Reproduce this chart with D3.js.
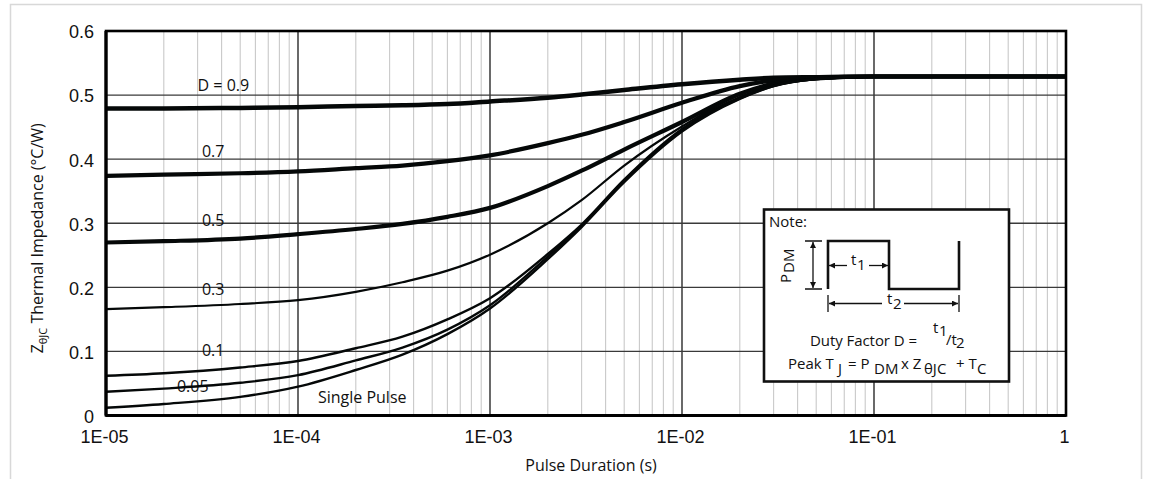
<!DOCTYPE html>
<html><head><meta charset="utf-8">
<script src="https://cdn.jsdelivr.net/npm/d3@7"></script>
<style>
html,body{margin:0;padding:0;background:#fff;}
svg{display:block;}
.lbl{font-family:"Open Sans",sans-serif;font-size:16px;fill:#111;}
.tick text{font-family:"Liberation Sans",Arial,sans-serif;font-size:18px;fill:#111;}
.note{font-family:"Open Sans",sans-serif;font-size:15px;fill:#111;}
</style></head>
<body>
<script>
// ---- data ----
const times = [1e-5, 2e-5, 5e-5, 1e-4, 2e-4, 3.5e-4, 6e-4, 1e-3, 2e-3, 3e-3, 5e-3, 1e-2, 2e-2, 3e-2, 5e-2, 1e-1, 1];
const dutyLabels = ["D = 0.9", "0.7", "0.5", "0.3", "0.1", "0.05", "Single Pulse"];
const zD09 = [0.479, 0.479, 0.480, 0.481, 0.483, 0.484, 0.486, 0.490, 0.496, 0.501, 0.508, 0.517, 0.524, 0.527, 0.528, 0.529, 0.529];
const zD07 = [0.374, 0.376, 0.378, 0.381, 0.386, 0.390, 0.397, 0.406, 0.425, 0.438, 0.458, 0.488, 0.514, 0.523, 0.527, 0.529, 0.529];
const zD05 = [0.270, 0.272, 0.276, 0.283, 0.291, 0.299, 0.310, 0.324, 0.358, 0.382, 0.415, 0.458, 0.502, 0.518, 0.526, 0.529, 0.529];
const zD03 = [0.166, 0.169, 0.174, 0.180, 0.193, 0.208, 0.226, 0.251, 0.300, 0.336, 0.390, 0.451, 0.500, 0.517, 0.526, 0.529, 0.529];
const zD01 = [0.062, 0.066, 0.075, 0.085, 0.105, 0.123, 0.150, 0.183, 0.252, 0.298, 0.368, 0.447, 0.497, 0.515, 0.525, 0.529, 0.529];
const zD005 = [0.037, 0.042, 0.051, 0.063, 0.086, 0.106, 0.134, 0.172, 0.248, 0.296, 0.366, 0.445, 0.495, 0.514, 0.525, 0.529, 0.529];
const zSingle = [0.012, 0.018, 0.029, 0.045, 0.071, 0.095, 0.127, 0.167, 0.244, 0.294, 0.364, 0.443, 0.494, 0.514, 0.525, 0.529, 0.529];
const xTickValues = [1e-5, 1e-4, 1e-3, 1e-2, 1e-1, 1];
const xTickLabels = ["1E-05", "1E-04", "1E-03", "1E-02", "1E-01", "1"];
const yTickValues = [0, 0.1, 0.2, 0.3, 0.4, 0.5, 0.6];
const yTickLabels = ["0", "0.1", "0.2", "0.3", "0.4", "0.5", "0.6"];

const series = [zD09, zD07, zD05, zD03, zD01, zD005, zSingle];
const widths = [4.5, 4.2, 4.2, 2.2, 2.4, 2.4, 2.4];
// label anchor positions in data coords (time, value)
const labelPos = [[3.0e-5, 0.506], [3.16e-5, 0.403], [3.16e-5, 0.296], [3.16e-5, 0.188], [3.16e-5, 0.093], [2.34e-5, 0.036], [1.27e-4, 0.020]];

// ---- layout ----
const W = 1152, H = 479;
const m = {l: 106, t: 31, r: 1066, b: 415.5};
const svg = d3.select("body").append("svg").attr("width", W).attr("height", H);

// outer light border
svg.append("path").attr("d", `M10.5,${H+2} V4.5 H1141.5 V${H+2}`).attr("fill","none").attr("stroke","#d8d8d8").attr("stroke-width",1.5);

const x = d3.scaleLog().domain([1e-5, 1]).range([m.l, m.r]);
const y = d3.scaleLinear().domain([0, 0.6]).range([m.b, m.t]);

const g = svg.append("g");
const minor = [];
for (let e = -5; e < 0; e++) for (let k = 2; k <= 9; k++) minor.push(k * Math.pow(10, e));
g.selectAll("line.minor").data(minor).join("line").attr("class","minor")
  .attr("x1", d => x(d)).attr("x2", d => x(d)).attr("y1", m.t).attr("y2", m.b)
  .attr("stroke", "#c9c9c9").attr("stroke-width", 1.1);
g.selectAll("line.major").data(xTickValues.slice(1, -1)).join("line").attr("class","major")
  .attr("x1", d => x(d)).attr("x2", d => x(d)).attr("y1", m.t).attr("y2", m.b)
  .attr("stroke", "#1a1a1a").attr("stroke-width", 1.3);
g.selectAll("line.hg").data(yTickValues.slice(1, -1)).join("line").attr("class","hg")
  .attr("x1", m.l).attr("x2", m.r).attr("y1", d => y(d)).attr("y2", d => y(d))
  .attr("stroke", "#3a3a3a").attr("stroke-width", 1.3);

// curve labels
svg.selectAll("text.clbl").data(dutyLabels).join("text").attr("class","lbl")
  .attr("x", (d, i) => x(labelPos[i][0])).attr("y", (d, i) => y(labelPos[i][1]))
  .text(d => d);

// curves
const line = d3.line().x((d, i) => x(times[i])).y(d => y(d)).curve(d3.curveMonotoneX);
svg.selectAll("path.curve").data(series).join("path").attr("class","curve")
  .attr("d", d => line(d)).attr("fill", "none").attr("stroke", "#050808")
  .attr("stroke-width", (d, i) => widths[i]).attr("stroke-linejoin","round");

// frame
svg.append("rect").attr("x", m.l).attr("y", m.t).attr("width", m.r - m.l).attr("height", m.b - m.t)
  .attr("fill", "none").attr("stroke", "#000").attr("stroke-width", 2.6);
svg.append("line").attr("x1", m.l).attr("x2", m.r).attr("y1", m.b).attr("y2", m.b).attr("stroke","#000").attr("stroke-width",3.2);
svg.append("line").attr("x1", m.l).attr("x2", m.l).attr("y1", m.t).attr("y2", m.b).attr("stroke","#000").attr("stroke-width",3.2);

// axes
const yAxis = d3.axisLeft(y).tickValues(yTickValues).tickSize(0).tickPadding(12)
  .tickFormat((d, i) => yTickLabels[i]);
const ya = svg.append("g").attr("transform", `translate(${m.l},0)`).call(yAxis);
ya.select(".domain").remove();
ya.selectAll(".tick text").attr("dy", "0.38em");
const xAxis = d3.axisBottom(x).tickValues(xTickValues).tickSize(0).tickPadding(15)
  .tickFormat((d, i) => xTickLabels[i]);
const xa = svg.append("g").attr("transform", `translate(0,${m.b})`).call(xAxis);
xa.select(".domain").remove();
xa.selectAll(".tick text").attr("dx", -2);

// axis titles
svg.append("text").attr("class","lbl").attr("x", (m.l + m.r) / 2 + 5).attr("y", 471).attr("text-anchor","middle")
  .text("Pulse Duration (s)");
const yt = svg.append("text").attr("class","lbl").attr("text-anchor","middle")
  .attr("transform", `translate(43,${(m.t + m.b) / 2 + 15}) rotate(-90)`);
yt.append("tspan").text("Z");
yt.append("tspan").attr("dy", 4).style("font-size", "11px").text("\u03B8JC");
yt.append("tspan").attr("dy", -4).text(" Thermal Impedance (\u00B0C/W)");

// ---- note box ----
const nb = svg.append("g");
nb.append("rect").attr("x", 764).attr("y", 209.5).attr("width", 245).attr("height", 172)
  .attr("fill", "#fff").attr("stroke", "#111").attr("stroke-width", 2.6);
nb.append("text").attr("class","note").attr("x", 769).attr("y", 227).text("Note:");
const defs = svg.append("defs");
defs.append("marker").attr("id","ah").attr("viewBox","0 0 10 10").attr("refX",10).attr("refY",5)
  .attr("markerWidth",9).attr("markerHeight",6).attr("markerUnits","userSpaceOnUse").attr("orient","auto-start-reverse")
  .append("path").attr("d","M0,0 L10,5 L0,10 z").attr("fill","#111");
// waveform
nb.append("path").attr("d","M828,289 V241 H889 V289 H959 V241").attr("fill","none").attr("stroke","#111").attr("stroke-width",2.6);
// PDM dimension
nb.append("path").attr("d","M805,241 H822 M805,289 H822").attr("stroke","#111").attr("stroke-width",1.3);
nb.append("line").attr("x1",813).attr("x2",813).attr("y1",242).attr("y2",288).attr("stroke","#111").attr("stroke-width",1.3)
  .attr("marker-start","url(#ah)").attr("marker-end","url(#ah)");
const pdm = nb.append("text").attr("class","note").attr("transform","translate(791,283) rotate(-90)");
pdm.append("tspan").text("P");
pdm.append("tspan").attr("dy", 3).attr("dx", 1).text("DM");
// multi-part text helper: parts = [[x, y, str], ...] in one text element
const multi = (parts) => {
  const t = nb.append("text").attr("class","note");
  parts.forEach(p => t.append("tspan").attr("x", p[0]).attr("y", p[1]).text(p[2]));
  return t;
};
// t1
nb.append("line").attr("x1",847).attr("x2",829).attr("y1",265.5).attr("y2",265.5).attr("stroke","#111").attr("stroke-width",1.3).attr("marker-end","url(#ah)");
nb.append("line").attr("x1",869).attr("x2",888).attr("y1",265.5).attr("y2",265.5).attr("stroke","#111").attr("stroke-width",1.3).attr("marker-end","url(#ah)");
multi([[851, 265, "t"], [857, 270, "1"]]);
// t2
nb.append("path").attr("d","M828,295 V312 M959,295 V312").attr("stroke","#111").attr("stroke-width",1.3);
nb.append("line").attr("x1",882).attr("x2",829).attr("y1",303.5).attr("y2",303.5).attr("stroke","#111").attr("stroke-width",1.3).attr("marker-end","url(#ah)");
nb.append("line").attr("x1",904).attr("x2",958).attr("y1",303.5).attr("y2",303.5).attr("stroke","#111").attr("stroke-width",1.3).attr("marker-end","url(#ah)");
multi([[887, 304, "t"], [893, 309, "2"]]);
// formulas
nb.append("text").attr("class","note").attr("x",810).attr("y",346).attr("textLength",107).attr("lengthAdjust","spacing").text("Duty Factor D =");
multi([[933, 333, "t"], [939, 336, "1"], [946, 345, "/t"], [956, 347.5, "2"]]);
multi([[788, 369, "Peak T"], [838, 374, "J"], [848, 369, "= P"], [874, 374, "DM"],
       [901, 369, "x Z"], [924, 374, "\u03B8JC"], [956, 369, "+ T"], [977, 374, "C"]]);
</script>
</body></html>
